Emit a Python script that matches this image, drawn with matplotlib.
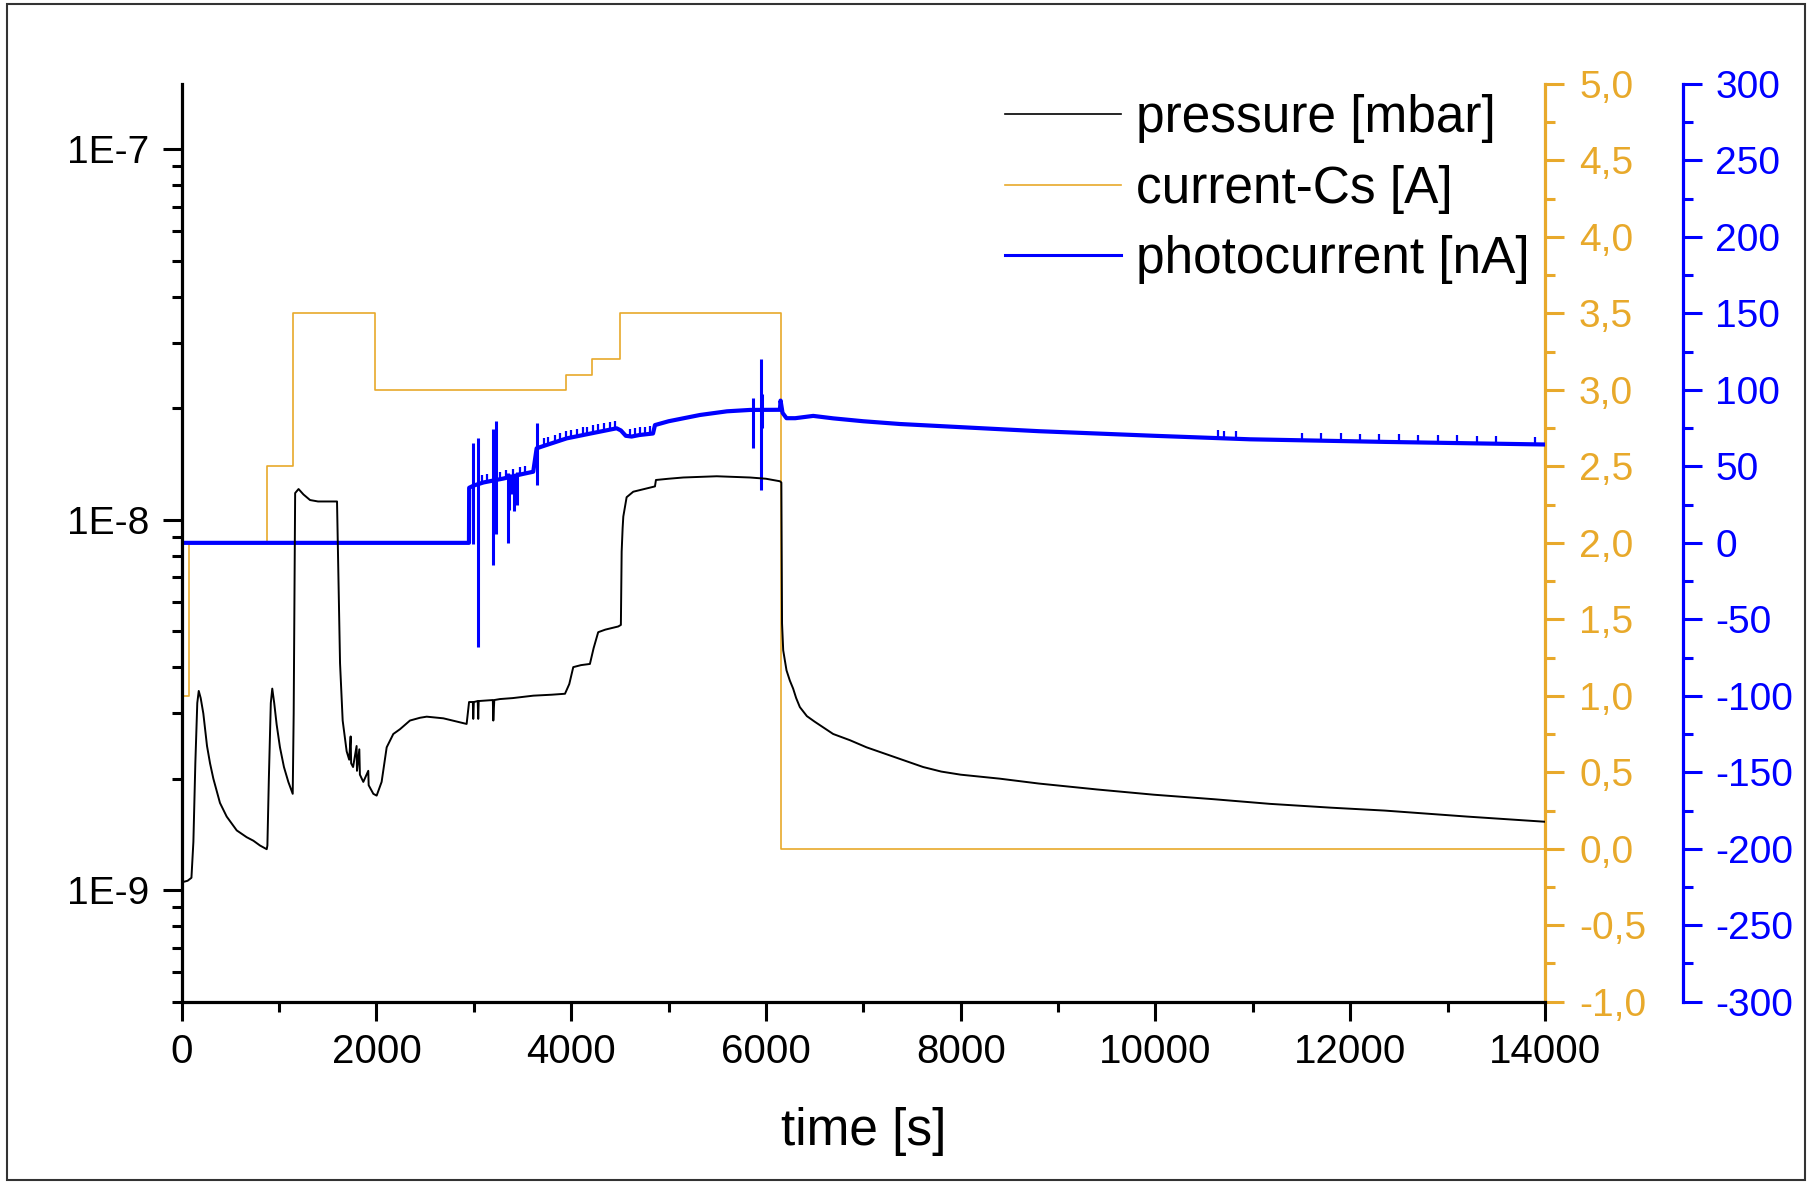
import numpy as np
import matplotlib
matplotlib.use("Agg")
import matplotlib.pyplot as plt
from matplotlib.lines import Line2D
from matplotlib.patches import Rectangle
from matplotlib.ticker import FixedLocator, MultipleLocator, FuncFormatter, LogLocator, NullFormatter

plt.rcParams['font.family'] = ['Liberation Sans', 'DejaVu Sans']

# ---------------- data ----------------
# pressure [mbar]
pressure_t = [0, 60, 100, 120, 140, 160, 175, 195, 222, 260, 291, 325, 393, 462, 565, 667, 736, 804, 873,
              880, 895, 915, 930, 950, 975, 1009, 1050, 1095, 1140, 1150, 1165, 1200, 1250, 1318, 1400, 1500, 1595,
              1610, 1626, 1653, 1694, 1720, 1735, 1740, 1760, 1796, 1800, 1824, 1830, 1865, 1916, 1920, 1968, 2002,
              2053, 2105, 2173, 2242, 2344, 2447, 2516, 2687, 2926, 2951, 2990, 2994, 3000, 3040, 3045, 3050,
              3195, 3200, 3210, 3268, 3400, 3611, 3800, 3936, 3980, 4021, 4100, 4192, 4230, 4277, 4350, 4483,
              4510, 4518, 4528, 4535, 4569, 4637, 4750, 4860, 4870, 5000, 5151, 5494, 5836, 6000, 6143, 6158,
              6165, 6177, 6211, 6245, 6279, 6310, 6348, 6420, 6500, 6690, 6862, 7033, 7376, 7614, 7800, 8000,
              8400, 8803, 9400, 9984, 10600, 11175, 11800, 12355, 13200, 14000]
pressure_v = [1.05e-9, 1.06e-9, 1.08e-9, 1.35e-9, 2.2e-9, 3.2e-9, 3.45e-9, 3.3e-9, 3.0e-9, 2.45e-9, 2.2e-9, 2.0e-9,
              1.72e-9, 1.58e-9, 1.45e-9, 1.39e-9, 1.36e-9, 1.32e-9, 1.29e-9,
              1.32e-9, 2.0e-9, 3.2e-9, 3.5e-9, 3.2e-9, 2.8e-9, 2.43e-9, 2.15e-9, 1.96e-9, 1.82e-9, 3.0e-9, 1.18e-8,
              1.21e-8, 1.17e-8, 1.13e-8, 1.12e-8, 1.12e-8, 1.12e-8,
              7.0e-9, 4.1e-9, 2.87e-9, 2.37e-9, 2.25e-9, 2.6e-9, 2.2e-9, 2.15e-9, 2.45e-9, 2.1e-9, 2.4e-9, 2.05e-9,
              1.96e-9, 2.1e-9, 1.92e-9, 1.82e-9, 1.80e-9,
              1.96e-9, 2.43e-9, 2.64e-9, 2.72e-9, 2.87e-9, 2.92e-9, 2.94e-9, 2.91e-9, 2.81e-9, 3.22e-9, 3.22e-9,
              2.9e-9, 3.22e-9, 3.24e-9, 2.9e-9, 3.24e-9,
              3.26e-9, 2.87e-9, 3.26e-9, 3.28e-9, 3.3e-9, 3.35e-9, 3.37e-9, 3.39e-9, 3.6e-9, 4.0e-9, 4.05e-9,
              4.08e-9, 4.5e-9, 4.97e-9, 5.05e-9, 5.15e-9,
              5.2e-9, 8.2e-9, 9.5e-9, 1.02e-8, 1.15e-8, 1.19e-8, 1.21e-8, 1.23e-8, 1.28e-8, 1.29e-8, 1.30e-8,
              1.31e-8, 1.30e-8, 1.29e-8, 1.27e-8, 1.26e-8,
              5.25e-9, 4.44e-9, 3.92e-9, 3.68e-9, 3.5e-9, 3.3e-9, 3.12e-9, 2.95e-9, 2.85e-9, 2.64e-9, 2.54e-9,
              2.43e-9, 2.26e-9, 2.15e-9, 2.09e-9, 2.05e-9,
              2.0e-9, 1.94e-9, 1.87e-9, 1.81e-9, 1.76e-9, 1.71e-9, 1.67e-9, 1.64e-9, 1.58e-9, 1.53e-9]

# current-Cs [A] (step function, value holds until next time)
current_t = [0, 75, 873, 1146, 1988, 3946, 4213, 4502, 6154, 14000]
current_v = [1.0, 2.0, 2.5, 3.5, 3.0, 3.1, 3.2, 3.5, 0.0, 0.0]

# photocurrent [nA] baseline
photo_t = [0, 2950, 2952, 3000, 3100, 3300, 3500, 3610, 3645, 3700, 3953, 4200, 4466, 4510, 4560, 4620,
           4700, 4840, 4860, 5000, 5322, 5600, 5836, 6143, 6150, 6170, 6211, 6300, 6485, 6690, 7000, 7376,
           7890, 8803, 9984, 10970, 12355, 14000]
photo_v = [0, 0, 36, 37.5, 39.5, 42, 45, 46.5, 61.8, 63, 68.3, 71.5, 74.9, 73.5, 70, 69.5,
           70.5, 71.5, 77, 79.5, 83.6, 86, 86.9, 87, 93, 85, 81.5, 81.5, 83, 81.4, 79.5, 77.7,
           76, 73, 70, 67.7, 66, 64.3]

# photocurrent spikes: time, lowest, highest
spike_t = [2992, 3044, 3194, 3228, 3347, 3360, 3390, 3410, 3440, 3645, 5870, 5945, 5955]
spike_lo = [-0.8, -67.8, -14.5, 5.8, -0.2, 21.8, 31.8, 20.5, 25, 38, 61.8, 34.5, 75]
spike_hi = [65.6, 68.8, 74.3, 79.8, 45.5, 45, 44, 44, 46, 78.6, 94.5, 120, 97]

# small periodic teeth on the photocurrent (times)
tooth_t = [3081, 3139, 3269, 3330, 3399, 3474, 3525, 3720, 3765, 3833, 3885, 3943, 3998, 4056, 4118,
           4165, 4221, 4278, 4337, 4398, 4450, 4604, 4655, 4707, 4758, 4809,
           10640, 10700, 10826, 11500, 11700, 11900, 12100, 12300, 12500, 12700, 12900, 13100, 13300, 13500,
           13900]

# ---------------- figure ----------------
W, H = 1810, 1184
fig = plt.figure(figsize=(W / 100, H / 100), dpi=100)
L, R, B, T = 181.7, 1545, 1001.7, 84
ax = fig.add_axes([L / W, 1 - B / H, (R - L) / W, (B - T) / H])
ax2 = ax.twinx()
ax3 = ax.twinx()

ORANGE = '#E8A92B'
BLUE = '#0000FF'

ax.set_zorder(3)
ax.patch.set_visible(False)
ax3.set_zorder(2)
ax2.set_zorder(1)

# pressure
ax.plot(pressure_t, pressure_v, color='black', lw=1.4)
ax.set_yscale('log')
ax.set_ylim(5e-10, 1.5e-7)
ax.set_xlim(0, 14000)

# current-Cs
ax2.step(current_t, current_v, where='post', color=ORANGE, lw=1.2)
ax2.set_ylim(-1, 5)

# photocurrent
ax3.plot(photo_t, photo_v, color=BLUE, lw=3.0)
ax3.vlines(spike_t, spike_lo, spike_hi, color=BLUE, lw=2.2)
tooth_base = np.interp(tooth_t, photo_t, photo_v)
ax3.vlines(tooth_t, tooth_base, tooth_base + 5, color=BLUE, lw=1.6)
ax3.set_ylim(-300, 300)

# ---------------- axes styling ----------------
SPW = 2.3
for a in (ax, ax2, ax3):
    for s in a.spines.values():
        s.set_visible(False)
ax.spines['left'].set_visible(True)
ax.spines['bottom'].set_visible(True)
ax.spines['left'].set_linewidth(SPW)
ax.spines['bottom'].set_linewidth(SPW)
ax2.spines['right'].set_visible(True)
ax2.spines['right'].set_color(ORANGE)
ax2.spines['right'].set_linewidth(SPW)
ax3.spines['right'].set_visible(True)
ax3.spines['right'].set_color(BLUE)
ax3.spines['right'].set_linewidth(SPW)
ax3.spines['right'].set_position(('outward', (1682.7 - R) * 72 / 100))

TFS = 28
MAJL, MINL, TW = 13.5, 7, 2.2

ax.xaxis.set_major_locator(MultipleLocator(2000))
ax.xaxis.set_minor_locator(MultipleLocator(1000))
ax.xaxis.set_major_formatter(FuncFormatter(lambda v, p: f"{int(round(v))}"))
ax.tick_params(axis='x', which='major', direction='out', length=MAJL, width=TW, labelsize=29, pad=9)
ax.tick_params(axis='x', which='minor', direction='out', length=MINL, width=TW)

ax.yaxis.set_major_locator(FixedLocator([1e-9, 1e-8, 1e-7]))
ax.yaxis.set_major_formatter(FuncFormatter(lambda v, p: {1e-9: '1E-9', 1e-8: '1E-8', 1e-7: '1E-7'}.get(v, '')))
ax.yaxis.set_minor_locator(LogLocator(base=10, subs=np.arange(2, 10), numticks=20))
ax.yaxis.set_minor_formatter(NullFormatter())
ax.tick_params(axis='y', which='major', direction='out', length=MAJL, width=TW, labelsize=TFS, pad=10)
ax.tick_params(axis='y', which='minor', direction='out', length=MINL, width=TW)

ax2.yaxis.set_major_locator(MultipleLocator(0.5))
ax2.yaxis.set_minor_locator(MultipleLocator(0.25))
ax2.yaxis.set_major_formatter(FuncFormatter(lambda v, p: f"{v:.1f}".replace('.', ',').replace('-0,0', '0,0')))
ax2.tick_params(axis='y', which='major', direction='out', length=MAJL, width=TW, labelsize=TFS, pad=11,
                colors=ORANGE)
ax2.tick_params(axis='y', which='minor', direction='out', length=MINL, width=TW, colors=ORANGE)

ax3.yaxis.set_major_locator(MultipleLocator(50))
ax3.yaxis.set_minor_locator(MultipleLocator(25))
ax3.yaxis.set_major_formatter(FuncFormatter(lambda v, p: f"{int(round(v))}"))
ax3.tick_params(axis='y', which='major', direction='out', length=MAJL, width=TW, labelsize=TFS, pad=10,
                colors=BLUE)
ax3.tick_params(axis='y', which='minor', direction='out', length=MINL, width=TW, colors=BLUE)

ax.set_xlabel('time [s]', fontsize=37, labelpad=26)

# legend
handles = [Line2D([], [], color='black', lw=1.2),
           Line2D([], [], color=ORANGE, lw=1.2),
           Line2D([], [], color=BLUE, lw=2.2)]
labels = ['pressure [mbar]', 'current-Cs [A]', 'photocurrent [nA]']
ax.legend(handles, labels, loc='upper left', bbox_to_anchor=(1005 / W, 1 - 94 / H),
          bbox_transform=fig.transFigure, frameon=False, fontsize=37, handlelength=2.25,
          handletextpad=0.3, labelspacing=0.42, borderpad=0, borderaxespad=0)

# outer frame
fig.add_artist(Rectangle((7 / W, 4 / H), (1805 - 7) / W, (1180 - 4) / H, transform=fig.transFigure,
                         fill=False, ec='#333333', lw=1.5))

fig.savefig('out.png', dpi=100)
